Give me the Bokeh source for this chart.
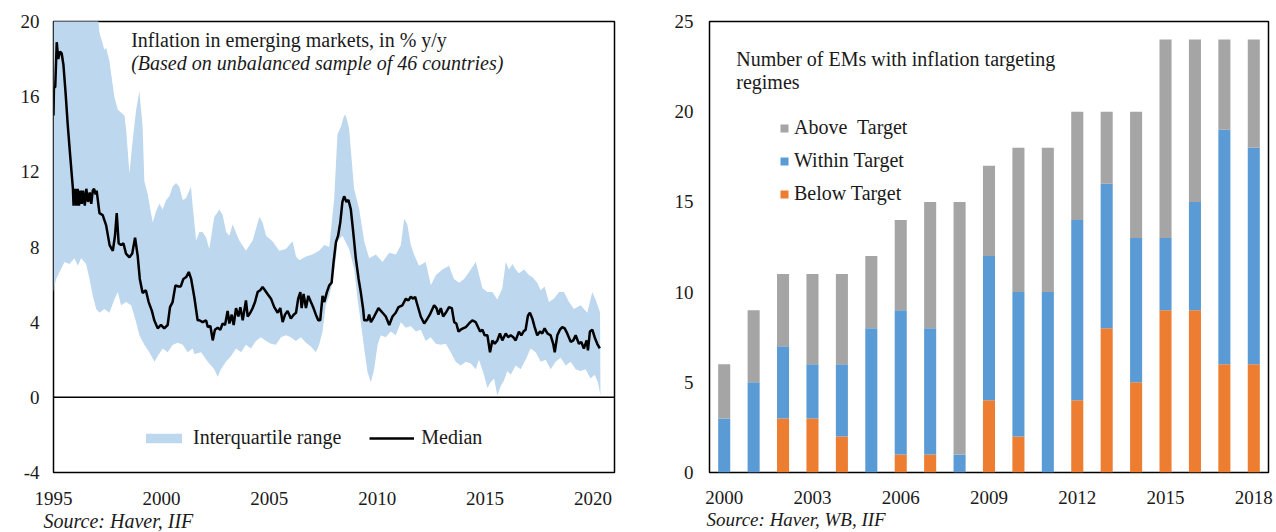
from bokeh.plotting import figure
from bokeh.models import (ColumnDataSource, FixedTicker, Span, Label, Legend, LegendItem, Title)
from bokeh.layouts import row
from bokeh.embed import file_html
from bokeh.resources import INLINE

# ---------------- Left chart data: inflation in EMs (% y/y) ----------------
median_x = [1995.00, 1995.02, 1995.08, 1995.15, 1995.22, 1995.30, 1995.38, 1995.46, 1995.56, 1995.66,
            1995.77, 1995.90, 1995.93, 1996.00, 1996.06, 1996.12, 1996.18, 1996.25, 1996.31, 1996.37,
            1996.45, 1996.52, 1996.60, 1996.68, 1996.75, 1996.82, 1996.88, 1996.95, 1997.00, 1997.13,
            1997.28, 1997.44, 1997.60, 1997.75, 1997.85, 1997.93, 1998.02, 1998.13, 1998.24, 1998.36,
            1998.52, 1998.65, 1998.78, 1998.90, 1999.00, 1999.13, 1999.28, 1999.41, 1999.56, 1999.67,
            1999.83, 1999.98, 2000.13, 2000.29, 2000.40, 2000.52, 2000.65, 2000.80, 2000.90, 2001.02,
            2001.15, 2001.27, 2001.38, 2001.53, 2001.68, 2001.76, 2001.91, 2002.07, 2002.15, 2002.27,
            2002.38, 2002.48, 2002.61, 2002.73, 2002.84, 2002.95, 2003.07, 2003.15, 2003.26, 2003.35,
            2003.46, 2003.57, 2003.66, 2003.77, 2003.92, 2004.00, 2004.12, 2004.23, 2004.34, 2004.46,
            2004.58, 2004.69, 2004.80, 2004.92, 2005.08, 2005.23, 2005.39, 2005.51, 2005.62, 2005.73,
            2005.85, 2006.00, 2006.13, 2006.24, 2006.34, 2006.44, 2006.50, 2006.59, 2006.70, 2006.81,
            2006.93, 2007.05, 2007.16, 2007.27, 2007.36, 2007.47, 2007.55, 2007.67, 2007.78, 2007.89,
            2007.98, 2008.09, 2008.19, 2008.29, 2008.39, 2008.47, 2008.58, 2008.67, 2008.78, 2008.89,
            2009.01, 2009.14, 2009.24, 2009.35, 2009.40, 2009.55, 2009.63, 2009.71, 2009.86, 2010.06,
            2010.25, 2010.40, 2010.56, 2010.71, 2010.86, 2010.99, 2011.17, 2011.33, 2011.45, 2011.56,
            2011.67, 2011.76, 2011.87, 2012.02, 2012.18, 2012.28, 2012.44, 2012.64, 2012.75, 2012.84,
            2012.95, 2013.06, 2013.18, 2013.33, 2013.46, 2013.57, 2013.67, 2013.77, 2013.87, 2013.98,
            2014.11, 2014.26, 2014.41, 2014.57, 2014.77, 2014.88, 2014.98, 2015.11, 2015.23, 2015.34,
            2015.45, 2015.57, 2015.69, 2015.80, 2015.96, 2016.07, 2016.19, 2016.31, 2016.42, 2016.57,
            2016.68, 2016.78, 2016.88, 2016.99, 2017.08, 2017.19, 2017.30, 2017.42, 2017.55, 2017.65,
            2017.76, 2017.89, 2018.04, 2018.16, 2018.23, 2018.35, 2018.47, 2018.58, 2018.69, 2018.81,
            2018.97, 2019.09, 2019.20, 2019.35, 2019.46, 2019.58, 2019.71, 2019.77, 2019.86, 2019.97,
            2020.08, 2020.20, 2020.32]
median_y = [15.0, 16.5, 16.5, 18.9, 18.0, 18.4, 18.3, 17.7, 16.2, 14.5,
            12.9, 11.1, 10.2, 11.1, 10.2, 11.1, 10.2, 11.0, 10.3, 11.0,
            10.2, 11.1, 10.4, 10.9, 10.3, 11.0, 11.1, 10.8, 11.0, 9.8,
            9.7, 9.15, 8.1, 7.8, 8.6, 9.8, 8.2, 8.1, 8.2, 7.65,
            7.45, 7.65, 8.5, 7.55, 6.3, 5.55, 5.7, 5.07, 4.6, 4.1,
            3.67, 3.85, 3.67, 3.85, 4.8, 5.07, 5.96, 5.9, 5.9, 6.3,
            6.4, 6.67, 6.3, 5.3, 4.1, 4.1, 4.0, 4.1, 3.74, 3.8,
            3.03, 3.6, 3.7, 3.6, 3.93, 3.85, 4.6, 3.93, 4.4, 3.85,
            4.75, 4.3, 4.8, 4.1, 5.16, 4.3, 4.5, 4.75, 5.07, 5.6,
            5.7, 5.87, 5.7, 5.5, 5.25, 4.8, 4.5, 4.75, 4.0, 4.4,
            4.6, 4.2, 4.4, 4.5, 5.25, 5.6, 4.75, 5.5, 4.75, 5.4,
            5.07, 4.75, 4.4, 4.1, 4.1, 5.4, 5.07, 5.6, 5.96, 6.1,
            7.2, 8.26, 8.6, 9.3, 10.4, 10.7, 10.4, 10.5, 10.0, 8.8,
            7.4, 6.3, 5.6, 4.7, 4.1, 4.1, 4.4, 4.0, 4.3, 4.75,
            4.5, 4.3, 3.85, 4.3, 4.5, 4.8, 4.9, 5.25, 5.16, 5.35,
            5.25, 5.35, 4.9, 4.3, 3.93, 4.1, 4.4, 4.9, 4.75, 4.4,
            4.75, 4.3, 4.5, 4.8, 4.75, 4.0, 3.93, 3.5, 3.6, 3.67,
            3.74, 3.93, 4.1, 4.0, 3.5, 3.6, 3.3, 3.3, 2.4, 3.03,
            2.85, 3.03, 3.4, 3.03, 3.4, 3.2, 3.3, 3.2, 3.03, 3.5,
            3.3, 3.5, 3.6, 4.36, 4.5, 4.2, 3.74, 3.3, 3.5, 3.4,
            3.67, 3.4, 3.3, 2.85, 2.4, 3.3, 3.6, 3.74, 3.67, 3.4,
            2.95, 3.03, 3.3, 2.85, 2.95, 2.6, 3.03, 2.5, 3.5, 3.6,
            3.2, 2.85, 2.6]

upper_x = [1995.00, 1996.99, 1997.13, 1997.36, 1997.44, 1997.59, 1997.82, 1997.98, 1998.29, 1998.37,
           1998.52, 1998.67, 1998.83, 1998.98, 1999.13, 1999.21, 1999.37, 1999.52, 1999.60, 1999.75,
           1999.91, 2000.06, 2000.22, 2000.37, 2000.52, 2000.68, 2000.83, 2000.99, 2001.14, 2001.37,
           2001.45, 2001.61, 2001.76, 2001.91, 2002.07, 2002.22, 2002.45, 2002.69, 2002.84, 2003.00,
           2003.15, 2003.30, 2003.61, 2003.92, 2004.23, 2004.54, 2004.69, 2004.85, 2005.15, 2005.46,
           2005.77, 2006.08, 2006.24, 2006.39, 2006.70, 2007.00, 2007.31, 2007.55, 2007.78, 2008.01,
           2008.16, 2008.32, 2008.47, 2008.55, 2008.70, 2008.93, 2009.17, 2009.40, 2009.63, 2009.94,
           2010.25, 2010.56, 2010.87, 2011.10, 2011.25, 2011.40, 2011.56, 2011.71, 2011.94, 2012.25,
           2012.49, 2012.72, 2013.02, 2013.33, 2013.56, 2013.80, 2014.03, 2014.34, 2014.57, 2014.64,
           2014.88, 2015.11, 2015.34, 2015.57, 2015.80, 2015.96, 2016.11, 2016.27, 2016.42, 2016.57,
           2016.81, 2017.04, 2017.19, 2017.42, 2017.58, 2017.76, 2017.96, 2018.19, 2018.43, 2018.66,
           2018.89, 2019.12, 2019.43, 2019.74, 2019.97, 2020.12, 2020.28, 2020.33]
upper_y = [21.0, 21.0, 19.4, 18.5, 18.6, 17.9, 16.0, 15.3, 15.0, 14.2,
           11.9, 13.7, 15.3, 16.3, 14.4, 11.5, 10.8, 9.8, 9.3, 9.9,
           10.3, 10.0, 10.5, 10.7, 11.2, 11.4, 11.2, 10.5, 10.6, 11.2,
           10.2, 8.35, 8.8, 8.8, 8.5, 7.9, 9.6, 10.0, 9.7, 8.8,
           8.6, 9.2, 8.35, 7.8, 8.35, 9.6, 9.3, 8.6, 8.3, 7.8,
           7.9, 8.3, 7.5, 7.3, 7.5, 7.6, 7.8, 8.1, 8.0, 10.6,
           14.0, 14.4, 15.0, 15.0, 14.3, 11.1, 10.0, 8.3, 7.4, 7.6,
           7.2, 7.7, 7.6, 8.1, 9.5, 9.2, 8.1, 7.6, 7.0, 7.2,
           5.96, 6.5, 6.8, 7.0, 6.3, 6.1, 6.3, 6.8, 7.2, 6.9,
           5.8, 5.6, 5.6, 5.2, 5.8, 7.2, 6.8, 7.1, 6.8, 6.6,
           6.8, 6.5, 6.4, 6.1, 5.7, 5.9, 5.07, 5.25, 5.6, 5.6,
           5.07, 4.7, 4.9, 4.5, 5.6, 5.2, 4.7, 4.5]

lower_x = [1995.00, 1995.12, 1995.28, 1995.51, 1995.74, 1995.97, 1996.13, 1996.28, 1996.51, 1996.67,
           1996.82, 1996.98, 1997.13, 1997.36, 1997.59, 1997.82, 1997.98, 1998.13, 1998.36, 1998.60,
           1998.83, 1998.98, 1999.21, 1999.44, 1999.68, 1999.83, 2000.06, 2000.29, 2000.53, 2000.76,
           2000.99, 2001.22, 2001.45, 2001.53, 2001.84, 2002.15, 2002.45, 2002.61, 2002.76, 2002.99,
           2003.23, 2003.46, 2003.69, 2003.92, 2004.15, 2004.38, 2004.61, 2004.85, 2005.08, 2005.31,
           2005.54, 2005.77, 2006.00, 2006.23, 2006.47, 2006.70, 2006.93, 2007.16, 2007.31, 2007.47,
           2007.62, 2007.78, 2007.93, 2008.09, 2008.16, 2008.39, 2008.70, 2008.94, 2009.09, 2009.24,
           2009.40, 2009.55, 2009.71, 2009.86, 2010.02, 2010.17, 2010.40, 2010.63, 2010.86, 2011.10,
           2011.33, 2011.56, 2011.79, 2012.02, 2012.25, 2012.48, 2012.72, 2012.95, 2013.18, 2013.41,
           2013.64, 2013.87, 2014.11, 2014.34, 2014.57, 2014.72, 2014.95, 2015.11, 2015.26, 2015.42,
           2015.57, 2015.73, 2015.88, 2016.03, 2016.19, 2016.42, 2016.65, 2016.88, 2017.11, 2017.35,
           2017.58, 2017.81, 2018.04, 2018.27, 2018.50, 2018.74, 2018.97, 2019.20, 2019.43, 2019.66,
           2019.89, 2020.08, 2020.23, 2020.35]
lower_y = [5.6, 6.3, 6.67, 7.2, 7.1, 7.4, 7.0, 7.4, 7.1, 6.3,
           5.4, 4.7, 4.5, 4.7, 4.5, 5.2, 5.6, 4.9, 5.07, 4.9,
           4.0, 3.3, 2.8, 2.4, 1.9, 2.2, 2.6, 2.4, 2.8, 2.9,
           2.8, 2.4, 2.6, 2.3, 2.4, 1.9, 1.5, 1.1, 1.5, 1.9,
           2.2, 2.6, 2.4, 2.8, 2.6, 3.0, 3.2, 3.0, 2.85, 2.8,
           3.2, 3.3, 3.2, 3.0, 3.2, 2.9, 2.7, 2.4, 2.8, 3.5,
           4.9, 5.4, 6.1, 7.4, 8.3, 8.6, 7.9, 6.8, 5.25, 4.0,
           2.6, 1.35, 0.8, 1.5, 2.8, 3.3, 3.2, 3.5, 3.3, 4.0,
           3.7, 3.8, 3.5, 3.6, 3.0, 3.2, 2.85, 2.8, 2.85, 2.4,
           1.9, 1.7, 1.9, 1.8, 1.5, 2.0, 1.2, 0.5, 0.8, 1.0,
           0.1, 0.6, 0.9, 1.4, 1.2, 1.7, 1.5, 2.0, 2.6, 2.4,
           1.9, 2.0, 1.5, 1.9, 2.1, 1.7, 1.9, 1.5, 1.4, 1.5,
           1.0, 1.2, 0.8, 0.1]

left_yticks = [-4, 0, 4, 8, 12, 16, 20]
left_xticks = [1995, 2000, 2005, 2010, 2015, 2020]

# ---------------- Right chart data: EMs with inflation targeting ----------------
years = [2000, 2001, 2002, 2003, 2004, 2005, 2006, 2007, 2008, 2009,
         2010, 2011, 2012, 2013, 2014, 2015, 2016, 2017, 2018]
below_target = [0, 0, 3, 3, 2, 0, 1, 1, 0, 4, 2, 0, 4, 8, 5, 9, 9, 6, 6]
within_target = [3, 5, 4, 3, 4, 8, 8, 7, 1, 8, 8, 10, 10, 8, 8, 4, 6, 13, 12]
above_target = [3, 4, 4, 5, 5, 4, 5, 7, 14, 5, 8, 8, 6, 4, 7, 11, 9, 5, 6]
right_yticks = [0, 5, 10, 15, 20, 25]
right_xticks = [2000, 2003, 2006, 2009, 2012, 2015, 2018]

FONT = "Liberation Serif"
TXT = "#1a1a1a"
BAND = "#BDD7EE"
ORANGE = "#ED7D31"
BLUE = "#5B9BD5"
GRAY = "#A5A5A5"


def style(p, yticks, xticks, ystand, xstand):
    p.xgrid.visible = False
    p.ygrid.visible = False
    p.outline_line_color = "black"
    p.outline_line_width = 1.5
    p.background_fill_color = "white"
    p.border_fill_color = "white"
    for ax in (p.xaxis, p.yaxis):
        ax.axis_line_color = None
        ax.major_tick_line_color = None
        ax.minor_tick_line_color = None
        ax.major_label_text_font = FONT
        ax.major_label_text_font_size = "19px"
        ax.major_label_text_color = TXT
    p.yaxis.ticker = FixedTicker(ticks=yticks)
    p.xaxis.ticker = FixedTicker(ticks=xticks)
    p.yaxis.major_label_standoff = ystand
    p.xaxis.major_label_standoff = xstand


def source_title(text, offset, size):
    return Title(text=text, align="left", offset=offset, standoff=0,
                 text_font=FONT, text_font_size=size, text_font_style="italic",
                 text_color=TXT)


# ---------------- Left figure ----------------
p1 = figure(width=640, height=532, x_range=(1995, 2021), y_range=(-4, 20),
            output_backend="svg", toolbar_location=None,
            min_border_left=53, min_border_right=26, min_border_top=21, min_border_bottom=60)
style(p1, left_yticks, left_xticks, 8, 13)
p1.yaxis.major_label_overrides = {-4: "-4"}

band_xs = upper_x + lower_x[::-1]
band_ys = upper_y + lower_y[::-1]
band = p1.patch(band_xs, band_ys, fill_color=BAND, line_color=None)
p1.add_layout(Span(location=0, dimension="width", line_color="black", line_width=1.5))
med = p1.line(median_x, median_y, line_color="black", line_width=2.5)

leg1 = Legend(items=[LegendItem(label="Interquartile range", renderers=[band]),
                     LegendItem(label="Median", renderers=[med])],
              orientation="horizontal", location=(88, 23),
              border_line_color=None, background_fill_alpha=0,
              glyph_width=45, glyph_height=12, label_standoff=7, spacing=28,
              padding=0, margin=0,
              label_text_font=FONT, label_text_font_size="20px", label_text_color=TXT)
p1.add_layout(leg1)

p1.add_layout(Label(x=1998.6, y=19.0, text="Inflation in emerging markets, in % y/y",
                    text_baseline="middle", text_font=FONT, text_font_size="20px", text_color=TXT))
p1.add_layout(Label(x=1998.6, y=17.77, text="(Based on unbalanced sample of 46 countries)",
                    text_baseline="middle", text_font=FONT, text_font_size="20px",
                    text_font_style="italic", text_color=TXT))
p1.add_layout(source_title("Source: Haver, IIF", -10, "20px"), "below")

# ---------------- Right figure ----------------
src = ColumnDataSource(dict(year=years, below=below_target, within=within_target, above=above_target))
p2 = figure(width=634, height=532, x_range=(1999.5, 2018.5), y_range=(0, 25),
            output_backend="svg", toolbar_location=None,
            min_border_left=69, min_border_right=6, min_border_top=21, min_border_bottom=55)
style(p2, right_yticks, right_xticks, 10, 12)

rs = p2.vbar_stack(["below", "within", "above"], x="year", width=0.41,
                   color=[ORANGE, BLUE, GRAY], line_color=None, source=src)

leg2 = Legend(items=[LegendItem(label="Above  Target", renderers=[rs[2]]),
                     LegendItem(label="Within Target", renderers=[rs[1]]),
                     LegendItem(label="Below Target", renderers=[rs[0]])],
              orientation="vertical", location=(70, 267),
              border_line_color=None, background_fill_alpha=0,
              glyph_width=10, glyph_height=10, label_standoff=5, spacing=10,
              label_height=22, padding=0, margin=0,
              label_text_font=FONT, label_text_font_size="20px", label_text_color=TXT)
p2.add_layout(leg2)

p2.add_layout(Label(x=2000.41, y=22.9, text="Number of EMs with inflation targeting",
                    text_baseline="middle", text_font=FONT, text_font_size="20px", text_color=TXT))
p2.add_layout(Label(x=2000.41, y=21.65, text="regimes",
                    text_baseline="middle", text_font=FONT, text_font_size="20px", text_color=TXT))
p2.add_layout(source_title("Source: Haver, WB, IIF", -3, "19px"), "below")

layout = row(p1, p2)
open("out.html", "w").write(file_html(layout, INLINE))
